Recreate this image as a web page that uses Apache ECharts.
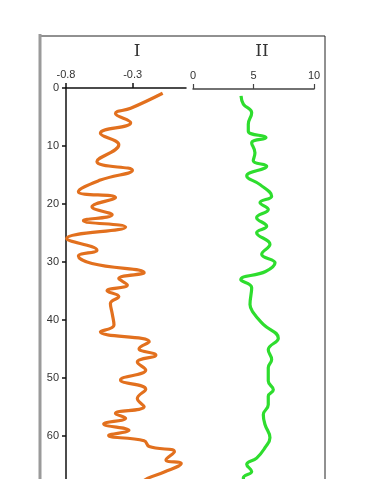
<!DOCTYPE html>
<html>
<head>
<meta charset="utf-8">
<style>
html,body{margin:0;padding:0;background:#fff;}
#chart{width:367px;height:479px;}
</style>
<script src="https://cdn.jsdelivr.net/npm/echarts@6/dist/echarts.min.js"></script>
</head>
<body>
<div id="chart"></div>
<script>
// Panel I (orange): depth and value
var depthI = [0.9, 3.5, 4.4, 6.0, 7.8, 9.8, 12.7, 14.2, 15.9, 17.9, 18.9, 20.5, 21.9, 22.9, 24.0, 26.0, 28.0, 29.0, 30.3, 31.9, 32.9, 34.0, 35.0, 36.0, 37.2, 38.9, 40.9, 42.1, 43.8, 45.0, 46.1, 47.3, 48.7, 50.4, 52.0, 53.6, 55.0, 56.2, 57.0, 58.0, 59.1, 60.0, 60.9, 61.9, 62.8, 64.2, 64.8, 66.3, 67.4, 68.5];
var valI = [-0.075, -0.315, -0.429, -0.315, -0.542, -0.404, -0.568, -0.302, -0.542, -0.707, -0.429, -0.605, -0.454, -0.669, -0.353, -0.795, -0.568, -0.707, -0.605, -0.214, -0.404, -0.340, -0.492, -0.404, -0.467, -0.454, -0.440, -0.542, -0.176, -0.252, -0.126, -0.265, -0.202, -0.391, -0.202, -0.265, -0.214, -0.429, -0.353, -0.517, -0.328, -0.480, -0.214, -0.176, 0.013, -0.050, 0.064, -0.063, -0.189, -0.250];
// Panel II (green): depth and value
var depthII = [1.2, 2.6, 4.1, 6.1, 7.3, 8.4, 9.3, 11.0, 12.4, 13.3, 15.0, 16.5, 18.5, 19.6, 20.8, 22.2, 23.7, 24.8, 26.8, 28.5, 30.0, 31.5, 32.9, 34.3, 37.2, 38.6, 40.6, 43.0, 45.0, 46.7, 48.1, 50.4, 51.9, 53.0, 54.5, 56.2, 57.9, 60.2, 61.9, 63.7, 64.8, 66.0, 67.1, 68.5];
var valII = [3.97, 4.16, 4.85, 4.57, 4.57, 6.03, 4.85, 5.12, 4.98, 6.09, 4.44, 5.54, 6.50, 5.54, 6.22, 5.26, 6.09, 5.26, 6.36, 5.68, 6.78, 6.00, 3.95, 4.85, 4.71, 4.98, 5.81, 7.05, 6.22, 6.50, 6.22, 6.22, 6.64, 6.22, 6.22, 5.81, 5.95, 6.36, 5.95, 5.26, 4.44, 4.85, 4.16, 4.50];
// Axis tick labels
var ticksI = [-0.8, -0.3];
var ticksII = [0, 5, 10];
var depthTicks = [0, 10, 20, 30, 40, 50, 60];
var panelTitles = ['I', 'II'];

function pairs(xs, ys){ var out=[]; for (var i=0;i<xs.length;i++) out.push([xs[i], ys[i]]); return out; }

var chart = echarts.init(document.getElementById('chart'), null, {renderer:'canvas'});
var axisFont = {fontFamily:'Liberation Sans, Arial, sans-serif', fontSize:11, color:'#333'};
chart.setOption({
  animation:false,
  backgroundColor:'#fff',
  title:[
    {text:panelTitles[0], left:132, top:38, textAlign:'center', textStyle:{fontFamily:'DejaVu Serif, Liberation Serif, serif', fontSize:17, fontWeight:'normal', color:'#333'}},
    {text:panelTitles[1], left:257, top:38, textAlign:'center', textStyle:{fontFamily:'DejaVu Serif, Liberation Serif, serif', fontSize:17, fontWeight:'normal', color:'#333'}}
  ],
  graphic:[
    {type:'polyline', shape:{points:[[40,500],[40,36],[325,36],[325,500]]}, style:{stroke:'#222', lineWidth:1, fill:null}, z:10},
    {type:'line', shape:{x1:40, y1:34, x2:40, y2:500}, style:{stroke:'#9a9a9a', lineWidth:3}, z:11}
  ],
  grid:[
    {left:66, top:88, width:120, bottom:0},
    {left:193, top:89, width:121, bottom:0}
  ],
  xAxis:[
    {gridIndex:0, type:'value', position:'top', min:-0.8, max:0.1,
     axisLine:{show:true, onZero:false, lineStyle:{color:'#111', width:1.5}},
     axisTick:{show:true, length:5, lineStyle:{color:'#111', width:1.5}, customValues:ticksI},
     axisLabel:Object.assign({margin:8, customValues:ticksI}, axisFont),
     splitLine:{show:false}},
    {gridIndex:1, type:'value', position:'top', min:0, max:10, interval:5,
     axisLine:{show:true, onZero:false, lineStyle:{color:'#444', width:1.5}},
     axisTick:{show:true, length:5, lineStyle:{color:'#444', width:1.2}, customValues:ticksII},
     axisLabel:Object.assign({margin:8, customValues:ticksII}, axisFont),
     splitLine:{show:false}}
  ],
  yAxis:[
    {gridIndex:0, type:'value', inverse:true, min:0, max:67.5,
     axisLine:{show:true, onZero:false, lineStyle:{color:'#111', width:1.5}},
     axisTick:{show:true, length:4, lineStyle:{color:'#111', width:1.5}, customValues:depthTicks},
     axisLabel:Object.assign({margin:7, customValues:depthTicks}, axisFont),
     splitLine:{show:false}},
    {gridIndex:1, type:'value', inverse:true, min:0, max:67.3, show:false, splitLine:{show:false}}
  ],
  series:[
    {type:'line', xAxisIndex:0, yAxisIndex:0, data:pairs(valI, depthI), smooth:0.45, showSymbol:false,
     lineStyle:{color:'#E2701E', width:3.2}, itemStyle:{color:'#E2701E'}, clip:true},
    {type:'line', xAxisIndex:1, yAxisIndex:1, data:pairs(valII, depthII), smooth:0.45, showSymbol:false,
     lineStyle:{color:'#2EDD2E', width:3.2}, itemStyle:{color:'#2EDD2E'}, clip:true}
  ]
});
</script>
</body>
</html>
